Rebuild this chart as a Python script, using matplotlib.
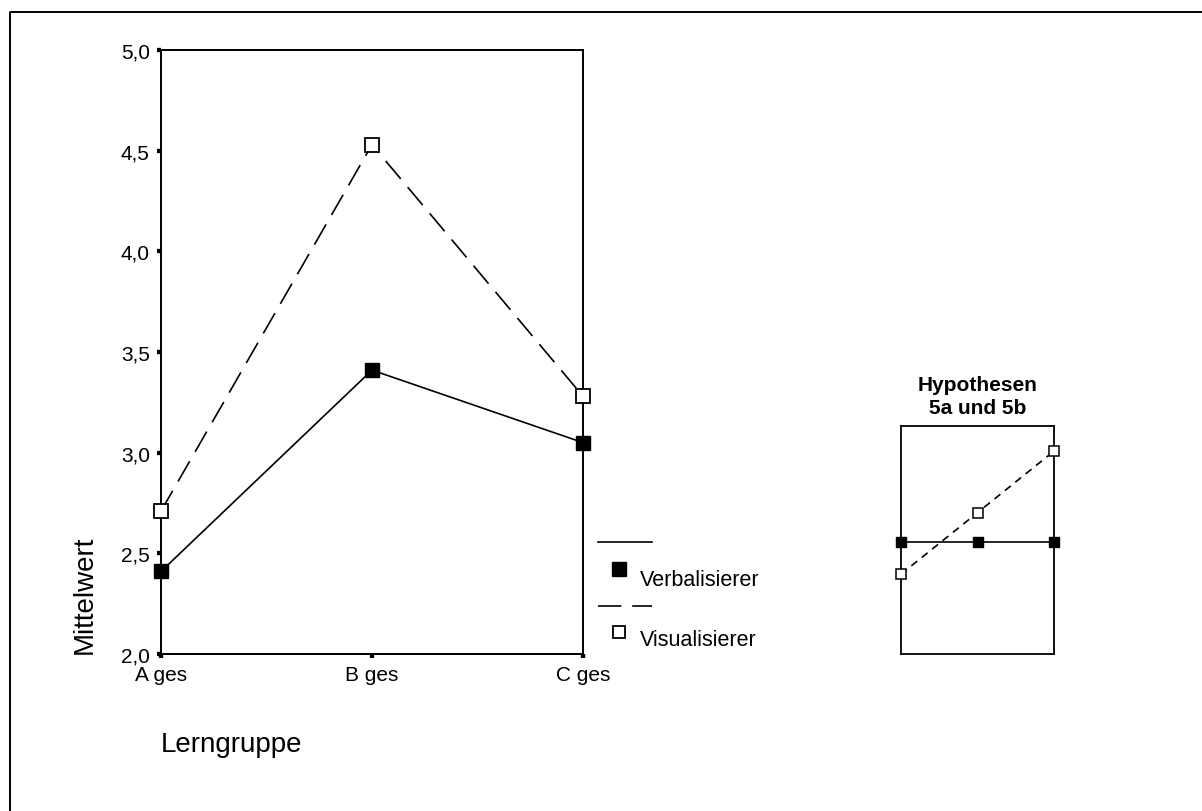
import matplotlib
matplotlib.use("Agg")
import matplotlib.pyplot as plt
from matplotlib.lines import Line2D

plt.rcParams['font.family'] = ['Liberation Sans', 'DejaVu Sans']

groups = ["A ges", "B ges", "C ges"]
verbalisierer = [2.41, 3.41, 3.05]
visualisierer = [2.71, 4.53, 3.28]
yticks = [2.0, 2.5, 3.0, 3.5, 4.0, 4.5, 5.0]
ytick_labels = ["2,0", "2,5", "3,0", "3,5", "4,0", "4,5", "5,0"]

# Hypothesis inset (schematic values)
hyp_verbal = [0.49, 0.49, 0.49]
hyp_visual = [0.35, 0.62, 0.89]

W, H = 1202, 812
fig = plt.figure(figsize=(W / 100, H / 100), dpi=100)

def fx(px):
    return px / W

def fy(py):
    return 1 - py / H

# page border (top and left visible)
fig.add_artist(Line2D([fx(9.5), fx(9.5), fx(1202)], [fy(812), fy(12.5), fy(12.5)],
                      transform=fig.transFigure, color='black', lw=1.4))

DASH = (0, (14, 6.5))

# main axes
L, R, T, B = 161, 583, 51, 655
ax = fig.add_axes([fx(L), fy(B), fx(R) - fx(L), fy(T) - fy(B)])
x = list(range(len(groups)))
ax.plot(x, verbalisierer, color='black', lw=1.2, marker='s', ms=9.5,
        mfc='black', mec='black', clip_on=False, zorder=3)
ax.plot(x, visualisierer, color='black', lw=1.2, ls=DASH, marker='s', ms=9.5,
        mfc='white', mec='black', mew=1.3, clip_on=False, zorder=3)
ax.set_xlim(0, 2)
ax.set_ylim(2.0, 5.0)
ax.set_xticks(x)
ax.set_xticklabels(groups, fontsize=15)
ax.set_yticks(yticks)
ax.set_yticklabels(ytick_labels, fontsize=15)
ax.tick_params(direction='out', length=3.1, width=3.1, pad=5)
for s in ax.spines.values():
    s.set_linewidth(1.4)

fig.text(fx(85), fy(595), "Mittelwert", rotation=90, fontsize=20, ha='center', va='center')
fig.text(fx(161), fy(745), "Lerngruppe", fontsize=20, ha='left', va='center')

# legend
fig.add_artist(Line2D([fx(598), fx(652)], [fy(543), fy(543)], transform=fig.transFigure,
                      color='black', lw=1.2))
fig.add_artist(Line2D([fx(619)], [fy(569.5)], transform=fig.transFigure, marker='s', ms=9.5,
                      mfc='black', mec='black', ls='none'))
fig.text(fx(640), fy(581), "Verbalisierer", fontsize=15.5, ha='left', va='center')
fig.add_artist(Line2D([fx(598), fx(652)], [fy(607), fy(607)], transform=fig.transFigure,
                      color='black', lw=1.2, ls=DASH))
fig.add_artist(Line2D([fx(618.5)], [fy(633)], transform=fig.transFigure, marker='s', ms=9,
                      mfc='white', mec='black', mew=1.3, ls='none'))
fig.text(fx(640), fy(641), "Visualisierer", fontsize=15.5, ha='left', va='center')

# inset hypothesis plot
iL, iR, iT, iB = 901, 1054, 427, 655
ax2 = fig.add_axes([fx(iL), fy(iB), fx(iR) - fx(iL), fy(iT) - fy(iB)])
ax2.plot(x, hyp_verbal, color='black', lw=1.2, marker='s', ms=7,
         mfc='black', mec='black', clip_on=False, zorder=3)
ax2.plot(x, hyp_visual, color='black', lw=1.2, ls=(0, (4.5, 3.5)), marker='s', ms=6.5,
         mfc='white', mec='black', mew=1.1, clip_on=False, zorder=3)
ax2.set_xlim(0, 2)
ax2.set_ylim(0, 1)
ax2.set_xticks([])
ax2.set_yticks([])
for s in ax2.spines.values():
    s.set_linewidth(1.3)
fig.text(fx(978), fy(386), "Hypothesen", fontsize=15, fontweight='bold',
         ha='center', va='center')
fig.text(fx(978), fy(408), "5a und 5b", fontsize=15, fontweight='bold',
         ha='center', va='center')

fig.savefig("out.png", dpi=100)
